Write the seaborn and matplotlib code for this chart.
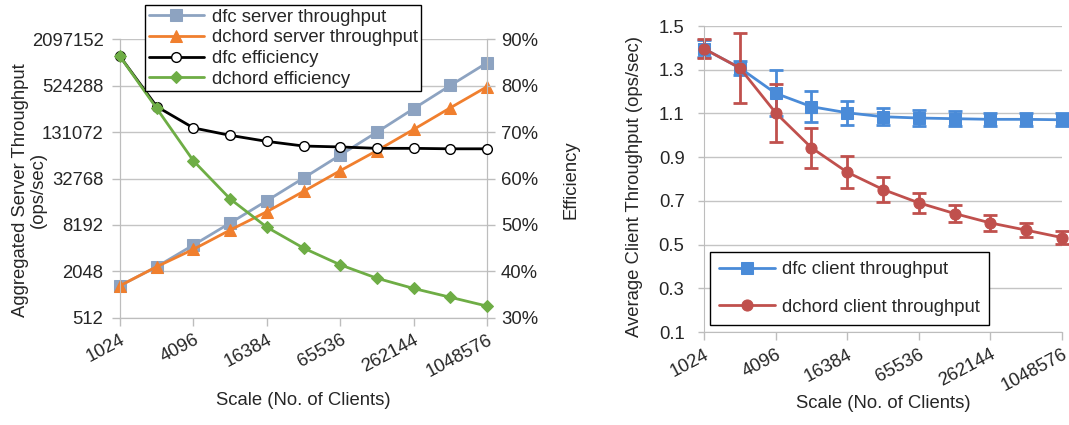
import numpy as np
import pandas as pd
import matplotlib
matplotlib.use("Agg")
import matplotlib.pyplot as plt
import seaborn as sns

# ---------------- data ----------------
scale = [1024, 2048, 4096, 8192, 16384, 32768, 65536, 131072, 262144, 524288, 1048576]
xtick_vals = [1024, 4096, 16384, 65536, 262144, 1048576]
ytick_vals_left = [512, 2048, 8192, 32768, 131072, 524288, 2097152]

dfc_server = [1333, 2350, 4490, 8660, 16850, 33200, 66000, 131000, 264000, 528000, 1040000]
dchord_server = [1333, 2350, 3950, 7030, 12150, 22300, 41400, 75300, 142000, 271000, 509000]
dfc_eff = [86.3, 75.5, 70.9, 69.3, 68.0, 67.0, 66.8, 66.5, 66.5, 66.4, 66.4]
dchord_eff = [86.3, 75.1, 63.8, 55.6, 49.5, 45.0, 41.4, 38.5, 36.3, 34.4, 32.5]

dfc_client = [1.396, 1.308, 1.192, 1.131, 1.103, 1.085, 1.079, 1.076, 1.073, 1.073, 1.071]
dfc_client_err = [0.04, 0.03, 0.105, 0.07, 0.055, 0.04, 0.037, 0.035, 0.03, 0.03, 0.03]
dchord_client = [1.396, 1.308, 1.103, 0.943, 0.831, 0.752, 0.691, 0.642, 0.599, 0.566, 0.532]
dchord_client_err = [0.043, 0.158, 0.132, 0.092, 0.072, 0.057, 0.047, 0.04, 0.035, 0.033, 0.03]

# ---------------- style ----------------
sns.set_style("white")
plt.rcParams['font.family'] = ['Liberation Sans', 'DejaVu Sans']
FS = 13.3
plt.rcParams['font.size'] = FS

c_dfc_srv = "#8DA3C1"
c_dch_srv = "#F07F2E"
c_dfc_eff = "#000000"
c_dch_eff = "#6EAD45"
c_dfc_cli = "#4A8BD8"
c_dch_cli = "#C0504D"
grid_c = "#C4C4C4"
spine_c = "#BDBDBD"

fig = plt.figure(figsize=(10.69, 4.25), dpi=100)
ax1 = fig.add_axes([0.1123, 0.2525, 0.4556 - 0.1123, 0.9075 - 0.2525])
ax2 = ax1.twinx()
ax3 = fig.add_axes([0.6586, 0.2188, 0.9935 - 0.6586, 0.9388 - 0.2188])

df_left = pd.DataFrame({
    "scale": scale,
    "dfc_server": dfc_server,
    "dchord_server": dchord_server,
    "dfc_eff": dfc_eff,
    "dchord_eff": dchord_eff,
})

# ---------- left chart ----------
sns.lineplot(data=df_left, x="scale", y="dfc_server", ax=ax1, color=c_dfc_srv, lw=2,
             marker="s", markersize=8, markeredgecolor=c_dfc_srv, label="dfc server throughput",
             clip_on=False, zorder=3)
sns.lineplot(data=df_left, x="scale", y="dchord_server", ax=ax1, color=c_dch_srv, lw=2,
             marker="^", markersize=8, markeredgecolor=c_dch_srv, label="dchord server throughput",
             clip_on=False, zorder=3)
sns.lineplot(data=df_left, x="scale", y="dfc_eff", ax=ax2, color=c_dfc_eff, lw=2,
             marker="o", markersize=7, markerfacecolor="white", markeredgecolor="black",
             markeredgewidth=1, label="dfc efficiency", clip_on=False, zorder=3)
sns.lineplot(data=df_left, x="scale", y="dchord_eff", ax=ax2, color=c_dch_eff, lw=2,
             marker="D", markersize=6, markeredgecolor=c_dch_eff, label="dchord efficiency",
             clip_on=False, zorder=3)

ax1.set_xscale("log", base=2)
ax1.set_yscale("log", base=2)
ax1.set_xlim(1024, 1048576)
ax1.set_ylim(512, 2097152)
ax1.set_yticks(ytick_vals_left)
ax1.set_yticklabels([str(v) for v in ytick_vals_left])
ax1.yaxis.set_minor_locator(matplotlib.ticker.NullLocator())
ax1.set_xticks(xtick_vals)
ax1.set_xticklabels([str(v) for v in xtick_vals], rotation=28, ha="right", rotation_mode="anchor")
ax1.xaxis.set_minor_locator(matplotlib.ticker.NullLocator())
ax1.grid(axis="y", color=grid_c, lw=1)
ax1.set_axisbelow(True)
ax1.tick_params(axis="y", length=6, width=1, color=spine_c, pad=6, labelsize=FS, left=True)
ax1.tick_params(axis="x", length=6, width=1, color=spine_c, pad=4, labelsize=FS, direction="out", bottom=True)
ax1.set_xlabel("Scale (No. of Clients)", fontsize=FS)
ax1.xaxis.set_label_coords(0.5, -0.266)
ax1.set_ylabel("Aggregated Server Throughput\n(ops/sec)", fontsize=FS, linespacing=1.05)
ax1.yaxis.set_label_coords(-0.2, 0.459)

ax2.set_ylim(30, 90)
ax2.set_yticks([30, 40, 50, 60, 70, 80, 90])
ax2.yaxis.set_major_formatter(matplotlib.ticker.FuncFormatter(lambda v, p: f"{int(v)}%"))
ax2.tick_params(axis="y", length=6, width=1, color=spine_c, pad=4, labelsize=FS, right=True)
ax2.set_ylabel("Efficiency", fontsize=FS)
ax2.yaxis.set_label_coords(1.205, 0.495)

for a in (ax1, ax2):
    for s in a.spines.values():
        s.set_color(spine_c)
    a.spines["top"].set_visible(False)

# combined legend
h1, l1 = ax1.get_legend_handles_labels()
h2, l2 = ax2.get_legend_handles_labels()
ax1.get_legend().remove()
ax2.get_legend().remove()
leg = ax2.legend(h1 + h2, l1 + l2, loc="upper left", bbox_to_anchor=(145 / 1069, 1 - 5 / 425),
                 bbox_transform=fig.transFigure,
                 frameon=True, fancybox=False, edgecolor="black", framealpha=1,
                 fontsize=FS, handlelength=3.0, borderpad=0.2, labelspacing=0.2,
                 handletextpad=0.4, borderaxespad=0)
leg.get_frame().set_linewidth(1.0)
leg.set_zorder(10)

# ---------- right chart ----------
df_right = pd.DataFrame({
    "scale": scale,
    "dfc_client": dfc_client,
    "dchord_client": dchord_client,
})
ax3.errorbar(scale, dfc_client, yerr=dfc_client_err, fmt="none", ecolor=c_dfc_cli,
             elinewidth=2, capsize=5, capthick=2, zorder=2, clip_on=False)
ax3.errorbar(scale, dchord_client, yerr=dchord_client_err, fmt="none", ecolor=c_dch_cli,
             elinewidth=2, capsize=5, capthick=2, zorder=2, clip_on=False)
sns.lineplot(data=df_right, x="scale", y="dfc_client", ax=ax3, color=c_dfc_cli, lw=2,
             marker="s", markersize=8, markeredgecolor=c_dfc_cli, label="dfc client throughput",
             clip_on=False, zorder=3)
sns.lineplot(data=df_right, x="scale", y="dchord_client", ax=ax3, color=c_dch_cli, lw=2,
             marker="o", markersize=8, markeredgecolor=c_dch_cli, label="dchord client throughput",
             clip_on=False, zorder=3)
ax3.set_xscale("log", base=2)
ax3.set_xlim(1024, 1048576)
ax3.set_ylim(0.1, 1.5)
ax3.set_yticks([0.1, 0.3, 0.5, 0.7, 0.9, 1.1, 1.3, 1.5])
ax3.yaxis.set_major_formatter(matplotlib.ticker.FuncFormatter(lambda v, p: f"{v:.1f}"))
ax3.set_xticks(xtick_vals)
ax3.set_xticklabels([str(v) for v in xtick_vals], rotation=28, ha="right", rotation_mode="anchor")
ax3.xaxis.set_minor_locator(matplotlib.ticker.NullLocator())
ax3.grid(axis="y", color=grid_c, lw=1)
ax3.set_axisbelow(True)
ax3.tick_params(axis="y", length=4, width=1, color=spine_c, pad=10, labelsize=FS, left=True)
ax3.tick_params(axis="x", length=6, width=1, color=spine_c, pad=4, labelsize=FS, direction="out", bottom=True)
ax3.set_xlabel("Scale (No. of Clients)", fontsize=FS)
ax3.xaxis.set_label_coords(0.5, -0.207)
ax3.set_ylabel("Average Client Throughput (ops/sec)", fontsize=FS)
ax3.yaxis.set_label_coords(-0.17, 0.474)
for s in ax3.spines.values():
    s.set_color(spine_c)
ax3.spines["top"].set_visible(False)
ax3.spines["right"].set_visible(False)
leg3 = ax3.legend(loc="upper left", bbox_to_anchor=(710 / 1069, 1 - 252 / 425),
                  bbox_transform=fig.transFigure, frameon=True, fancybox=False,
                  edgecolor="black", framealpha=1, fontsize=FS, handlelength=3.0,
                  borderpad=0.5, labelspacing=1.1, handletextpad=0.4, borderaxespad=0)
leg3.get_frame().set_linewidth(1.0)

fig.savefig("out.png", dpi=100)
